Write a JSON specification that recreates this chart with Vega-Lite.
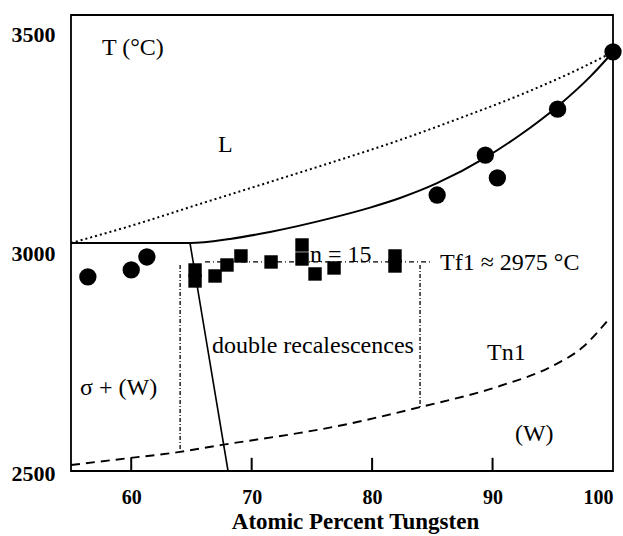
{
  "$schema": "https://vega.github.io/schema/vega-lite/v6.json",
  "width": 542,
  "height": 456,
  "autosize": {"type": "none"},
  "padding": {"left": 71, "top": 15, "right": 10, "bottom": 65},
  "background": "white",
  "config": {
    "view": {"stroke": "black", "strokeWidth": 1.8},
    "font": "Liberation Serif"
  },
  "datasets": {
    "dotted": [
      {"x": 55.0, "y": 3020.5}, {"x": 60.48, "y": 3063.9}, {"x": 65.96, "y": 3111.9},
      {"x": 71.52, "y": 3159.8}, {"x": 76.5, "y": 3203.2}, {"x": 82.32, "y": 3255.7},
      {"x": 87.55, "y": 3308.2}, {"x": 92.28, "y": 3358.4}, {"x": 97.01, "y": 3415.5},
      {"x": 100.0, "y": 3456.6}
    ],
    "liquidus": [
      {"x": 55.0, "y": 3020.5}, {"x": 64.88, "y": 3020.5}, {"x": 68.2, "y": 3029.8},
      {"x": 71.52, "y": 3045.7}, {"x": 76.5, "y": 3076.7}, {"x": 79.83, "y": 3101.3},
      {"x": 82.32, "y": 3123.2}, {"x": 85.39, "y": 3157}, {"x": 89.38, "y": 3214.9},
      {"x": 92.28, "y": 3267.1}, {"x": 95.44, "y": 3333.5}, {"x": 98.09, "y": 3399.8},
      {"x": 100.0, "y": 3456.6}
    ],
    "sigma": [
      {"x": 64.88, "y": 3020.5}, {"x": 68.04, "y": 2500}
    ],
    "tn1": [
      {"x": 55.0, "y": 2513.7}, {"x": 59.9, "y": 2529.7}, {"x": 63.9, "y": 2543},
      {"x": 67.4, "y": 2559}, {"x": 74.0, "y": 2587}, {"x": 75.7, "y": 2595},
      {"x": 84.0, "y": 2646}, {"x": 90.6, "y": 2694}, {"x": 95.0, "y": 2740},
      {"x": 97.5, "y": 2783}, {"x": 99.6, "y": 2845}
    ],
    "vlines": [
      {"x": 64.06, "y": 2970, "y2": 2543.4},
      {"x": 83.98, "y": 2970, "y2": 2646}
    ],
    "tfl": [
      {"x": 66.13, "x2": 84.97, "y": 2977.2}
    ],
    "xticks": [
      {"x": 60, "y": 2500, "y2": 2530}, {"x": 70, "y": 2500, "y2": 2530},
      {"x": 80, "y": 2500, "y2": 2530}, {"x": 90, "y": 2500, "y2": 2530}
    ],
    "circles": [
      {"x": 56.4, "y": 2943}, {"x": 60.0, "y": 2959}, {"x": 61.3, "y": 2988.6},
      {"x": 85.4, "y": 3130}, {"x": 89.4, "y": 3221}, {"x": 90.4, "y": 3169},
      {"x": 95.4, "y": 3326}, {"x": 100.0, "y": 3457}
    ],
    "squares": [
      {"x": 65.3, "y": 2958.9}, {"x": 65.3, "y": 2933.8}, {"x": 66.96, "y": 2945.2},
      {"x": 67.95, "y": 2970.3}, {"x": 69.11, "y": 2990.9}, {"x": 71.61, "y": 2977.2},
      {"x": 74.18, "y": 3016}, {"x": 74.18, "y": 2984}, {"x": 75.26, "y": 2949.8},
      {"x": 76.84, "y": 2963.5}, {"x": 81.9, "y": 2990.9}, {"x": 81.9, "y": 2968}
    ],
    "labels": [
      {"x": 57.57, "y": 3449.8, "label": "T (°C)"},
      {"x": 67.2, "y": 3228, "label": "L"},
      {"x": 74.84, "y": 2977, "label": "n = 15"},
      {"x": 85.64, "y": 2958.9, "label": "Tf1 ≈ 2975 °C"},
      {"x": 66.71, "y": 2769.4, "label": "double recalescences"},
      {"x": 89.54, "y": 2753, "label": "Tn1"},
      {"x": 55.75, "y": 2673.5, "label": "σ + (W)"},
      {"x": 91.86, "y": 2568.5, "label": "(W)"}
    ]
  },
  "encoding": {
    "x": {
      "field": "x", "type": "quantitative",
      "scale": {"domain": [55, 100], "nice": false, "zero": false},
      "axis": {
        "values": [60, 70, 80, 90, 100],
        "domain": false, "grid": false, "ticks": false,
        "labelPadding": 16, "labelFont": "Liberation Serif", "labelFontWeight": "bold",
        "labelFontSize": 20, "labelColor": "black", "labelBaseline": "top",
        "title": "Atomic Percent Tungsten",
        "titleFont": "Liberation Serif", "titleFontWeight": "bold", "titleFontSize": 23,
        "titleColor": "black", "titleX": 284, "titleY": 57, "titleBaseline": "alphabetic",
        "titleAlign": "center"
      }
    },
    "y": {
      "field": "y", "type": "quantitative",
      "scale": {"domain": [2500, 3541], "nice": false, "zero": false},
      "axis": {
        "values": [2500, 3000, 3500], "format": "d",
        "domain": false, "grid": false, "ticks": false,
        "labelPadding": 16, "labelOffset": 2,
        "labelFont": "Liberation Serif", "labelFontWeight": "bold",
        "labelFontSize": 22, "labelColor": "black",
        "title": null
      }
    }
  },
  "layer": [
    {"data": {"name": "dotted"}, "mark": {"type": "line", "color": "black", "strokeWidth": 2, "strokeDash": [2, 3], "interpolate": "monotone"}},
    {"data": {"name": "liquidus"}, "mark": {"type": "line", "color": "black", "strokeWidth": 2, "interpolate": "monotone"}},
    {"data": {"name": "sigma"}, "mark": {"type": "line", "color": "black", "strokeWidth": 1.6}},
    {"data": {"name": "tn1"}, "mark": {"type": "line", "color": "black", "strokeWidth": 1.9, "strokeDash": [9, 6], "interpolate": "monotone"}},
    {"data": {"name": "vlines"}, "mark": {"type": "rule", "color": "black", "strokeWidth": 1.3, "strokeDash": [4, 2, 1, 2]},
      "encoding": {"y2": {"field": "y2"}}},
    {"data": {"name": "tfl"}, "mark": {"type": "rule", "color": "black", "strokeWidth": 1.3, "strokeDash": [5, 3, 1, 3]},
      "encoding": {"x2": {"field": "x2"}}},
    {"data": {"name": "xticks"}, "mark": {"type": "rule", "color": "black", "strokeWidth": 2},
      "encoding": {"y2": {"field": "y2"}}},
    {"data": {"name": "squares"}, "mark": {"type": "point", "shape": "square", "filled": true, "color": "black", "opacity": 1, "size": 180}},
    {"data": {"name": "circles"}, "mark": {"type": "point", "shape": "circle", "filled": true, "color": "black", "opacity": 1, "size": 300}},
    {"data": {"name": "labels"}, "mark": {"type": "text", "align": "left", "baseline": "alphabetic", "font": "Liberation Serif", "fontSize": 24, "color": "black"},
      "encoding": {"text": {"field": "label"}}}
  ]
}
